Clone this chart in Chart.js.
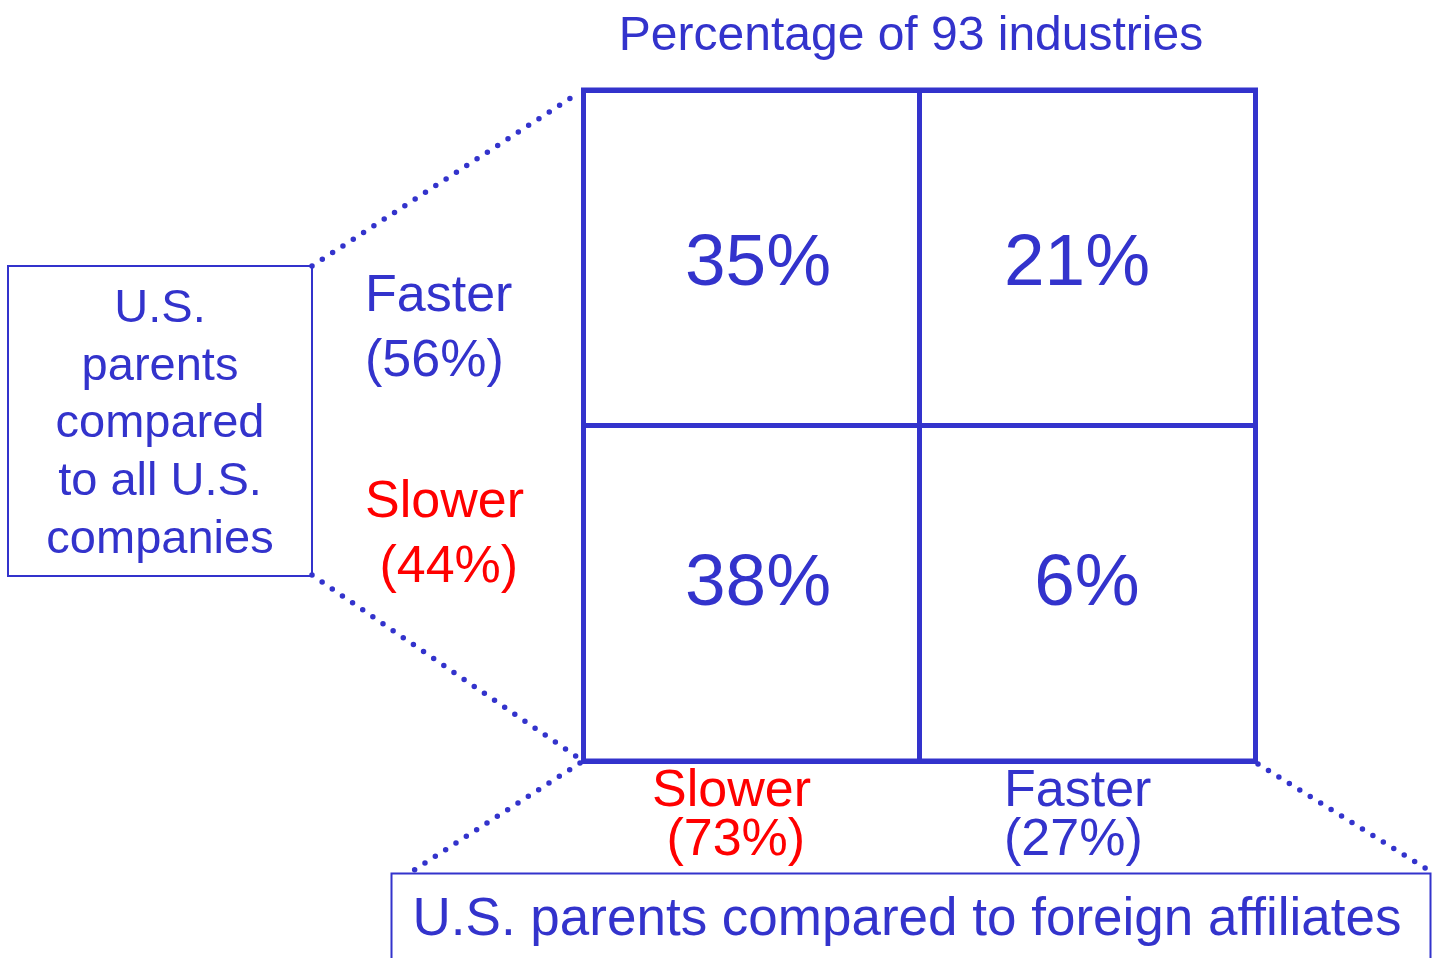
<!DOCTYPE html>
<html lang="en">
<head>
    <meta charset="UTF-8">
    <title>Percentage of 93 industries</title>
    <script src="https://cdn.jsdelivr.net/npm/chart.js@4.4.0/dist/chart.umd.min.js"></script>
    <style>
        html, body { margin: 0; padding: 0; background: #fff; }
        canvas { display: block; }
    </style>
</head>
<body>
    <canvas id="matrix" width="1432" height="958"></canvas>

    <script>
        // Columns: U.S. parents compared to foreign affiliates
        const colCategories = ['Slower', 'Faster'];
        const colShares = [73, 27];
        // Rows (top to bottom): U.S. parents compared to all U.S. companies
        const rowCategories = ['Faster', 'Slower'];
        const rowShares = [56, 44];
        // Cell percentages, row by row starting top-left
        const cellValues = [35, 21, 38, 6];

        const BLUE = '#3333CC';
        const RED = '#FF0000';
        const FONT = '"Liberation Sans", Arial, Helvetica, sans-serif';
        const catColor = c => c === 'Slower' ? RED : BLUE;

        // build points at the centre of each cell
        const cellPoints = cellValues.map((v, i) => ({
            x: (i % 2) + 0.5,
            y: 1.5 - Math.floor(i / 2),
            v: v
        }));

        function put(ctx, str, x, y, size, color, align) {
            ctx.font = size + 'px ' + FONT;
            ctx.fillStyle = color;
            ctx.textAlign = align || 'left';
            ctx.textBaseline = 'alphabetic';
            ctx.fillText(str, x, y);
        }

        function dots(ctx, x1, y1, x2, y2) {
            ctx.beginPath();
            ctx.moveTo(x1, y1);
            ctx.lineTo(x2, y2);
            ctx.stroke();
        }

        // small nudges so the numbers sit where they do in the original
        const cellNudge = [[7, 27], [-10, 27], [7, 12], [0, 12]];

        const matrixPlugin = {
            id: 'matrixPlugin',
            afterDatasetsDraw(chart) {
                const ctx = chart.ctx;
                const area = chart.chartArea;
                const xs = chart.scales.x;
                const ys = chart.scales.y;
                ctx.save();

                // outer frame with square corners
                ctx.strokeStyle = BLUE;
                ctx.lineWidth = 5;
                ctx.lineJoin = 'miter';
                ctx.strokeRect(Math.round(area.left) + 0.5, Math.round(area.top), Math.round(area.right - area.left), Math.round(area.bottom - area.top));

                // cell percentages
                const meta = chart.getDatasetMeta(0);
                meta.data.forEach((pt, i) => {
                    const n = cellNudge[i];
                    put(ctx, cellPoints[i].v + '%', pt.x + n[0], pt.y + n[1], 73, BLUE, 'center');
                });

                // title
                put(ctx, 'Percentage of 93 industries', 911, 50, 48, BLUE, 'center');

                // row labels (left of the grid)
                const rowX = xs.getPixelForValue(0) - 218;
                rowCategories.forEach((c, i) => {
                    const yc = ys.getPixelForValue(1.5 - i);
                    const base = i === 0 ? yc + 53 : yc - 76;
                    put(ctx, c, rowX, base, 52, catColor(c));
                    put(ctx, (i === 0 ? '' : ' ') + '(' + rowShares[i] + '%)', rowX, base + 65, 52, catColor(c));
                });

                // column labels (under the grid)
                colCategories.forEach((c, i) => {
                    const xc = xs.getPixelForValue(i + 0.5);
                    const left = i === 0 ? xc - 99 : xc - 83;
                    const base = area.bottom + 45;
                    put(ctx, c, left, base, 52, catColor(c));
                    put(ctx, (i === 0 ? ' ' : '') + '(' + colShares[i] + '%)', left, base + 49, 52, catColor(c));
                });

                // left box
                ctx.lineWidth = 2;
                ctx.strokeStyle = BLUE;
                ctx.strokeRect(8, 266, 304, 310);
                const boxLines = ['U.S.', 'parents', 'compared', 'to all U.S.', 'companies'];
                boxLines.forEach((s, i) => put(ctx, s, 160, 322 + i * 57.7, 47, BLUE, 'center'));

                // bottom box
                ctx.strokeRect(391.5, 873.5, 1039, 120);
                put(ctx, 'U.S. parents compared to foreign affiliates', 907, 935, 53, BLUE, 'center');

                // dotted connectors
                ctx.strokeStyle = BLUE;
                ctx.lineWidth = 5.5;
                ctx.lineCap = 'round';
                ctx.setLineDash([0, 12.3]);
                dots(ctx, 312, 266, area.left - 3, area.top + 2);
                dots(ctx, 312, 575, area.left - 3, area.bottom - 2);
                dots(ctx, area.left - 3, area.bottom + 2, 408, 874);
                dots(ctx, area.right + 3, area.bottom + 3, 1430, 871);
                ctx.restore();
            }
        };

        const ctx = document.getElementById('matrix').getContext('2d');
        new Chart(ctx, {
            type: 'scatter',
            data: {
                datasets: [{
                    data: cellPoints,
                    pointRadius: 0,
                    pointHoverRadius: 0
                }]
            },
            options: {
                responsive: false,
                animation: false,
                devicePixelRatio: 1,
                layout: {
                    padding: { left: 583, top: 90, right: 177, bottom: 197 }
                },
                scales: {
                    x: {
                        min: 0, max: 2,
                        ticks: { display: false, stepSize: 1 },
                        grid: { color: BLUE, lineWidth: 5, drawTicks: false },
                        border: { display: true, color: BLUE, width: 5 }
                    },
                    y: {
                        min: 0, max: 2,
                        ticks: { display: false, stepSize: 1 },
                        grid: { color: BLUE, lineWidth: 5, drawTicks: false },
                        border: { display: true, color: BLUE, width: 5 }
                    }
                },
                plugins: {
                    legend: { display: false },
                    tooltip: { enabled: false }
                }
            },
            plugins: [matrixPlugin]
        });
    </script>
</body>
</html>
